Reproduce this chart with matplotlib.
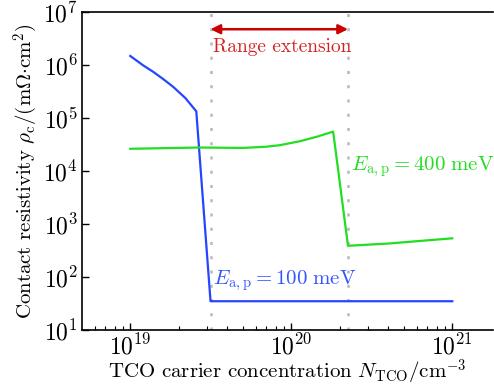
import numpy as np
import matplotlib
matplotlib.use('Agg')
import matplotlib.pyplot as plt

plt.rcParams['mathtext.fontset'] = 'cm'
plt.rcParams['font.family'] = 'serif'
plt.rcParams['font.serif'] = ['cmr10', 'DejaVu Serif']
plt.rcParams['axes.formatter.use_mathtext'] = True

# Blue curve, E_a,p = 100 meV
n_100 = [1.0e19, 1.2e19, 1.39e19, 1.6e19, 1.85e19, 2.2e19, 2.57e19, 3.15e19, 1.0e21]
rho_100 = [1.5e6, 1.0e6, 7.5e5, 5.5e5, 3.9e5, 2.4e5, 1.35e5, 35, 35]

# Green curve, E_a,p = 400 meV
n_400 = [1.0e19, 2.7e19, 5.0e19, 7.0e19, 8.5e19, 1.14e20, 1.45e20, 1.82e20, 2.25e20, 4e20, 1.0e21]
rho_400 = [2.65e4, 2.8e4, 2.75e4, 2.9e4, 3.1e4, 3.7e4, 4.5e4, 5.6e4, 390, 430, 540]

# Range extension boundaries
range_lo = 3.15e19
range_hi = 2.25e20

fig = plt.figure(figsize=(4.94, 3.86), dpi=100)
ax = fig.add_axes([0.166, 0.145, 0.832, 0.823])

ax.plot(n_100, rho_100, color='#2545ff', lw=1.6)
ax.plot(n_400, rho_400, color='#22dd22', lw=1.6)

for xv in (range_lo, range_hi):
    ax.axvline(xv, color='#b8b8b8', lw=1.8, ls=(0, (1.2, 4.5)), zorder=0)

ax.annotate('', xy=(range_lo, 4.8e6), xytext=(range_hi, 4.8e6),
            arrowprops=dict(arrowstyle='<|-|>', color='#cc0000', lw=1.8,
                            mutation_scale=14, shrinkA=0, shrinkB=0))
ax.text(range_lo * 1.03, 2.2e6, 'Range extension', color='#d42020',
        fontsize=14, va='center', ha='left')

ax.text(range_hi * 1.05, 1.25e4, r'$E_{\rm a,p} = 400\ \rm meV$', color='#22dd22',
        fontsize=15, va='center', ha='left')
ax.text(range_lo * 1.04, 85, r'$E_{\rm a,p} = 100\ \rm meV$', color='#3355ff',
        fontsize=15, va='center', ha='left')

ax.set_xscale('log')
ax.set_yscale('log')
ax.set_xlim(10**18.70, 10**21.253)
ax.set_ylim(10, 1e7)
ax.set_xticks([1e19, 1e20, 1e21])
ax.set_yticks([1e1, 1e2, 1e3, 1e4, 1e5, 1e6, 1e7])

ax.tick_params(which='both', direction='in', top=False, right=False, labelsize=17)
ax.tick_params(which='major', length=5, width=1)
ax.tick_params(which='minor', length=3, width=0.8)
ax.tick_params(axis='x', pad=3)
ax.tick_params(axis='y', pad=3)
ax.spines['right'].set_visible(False)
for s in ('left', 'bottom', 'top'):
    ax.spines[s].set_linewidth(1.2)

ax.set_xlabel(r'TCO carrier concentration $N_{\rm TCO}/{\rm cm}^{-3}$', fontsize=15, labelpad=-1.5)
ax.set_ylabel(r'Contact resistivity $\rho_{\rm c}/({\rm m\Omega{\cdot}cm}^2)$', fontsize=15, labelpad=2)

fig.savefig('out.png', dpi=100)
